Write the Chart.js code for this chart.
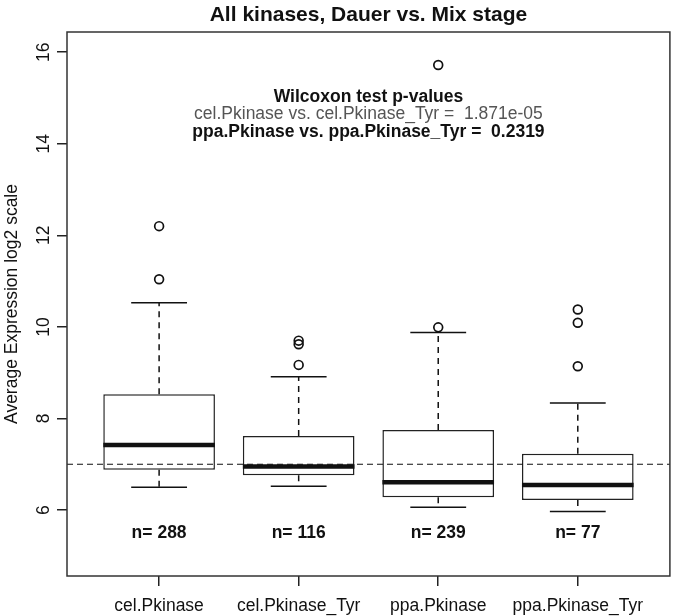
<!DOCTYPE html>
<html>
<head>
<meta charset="utf-8">
<script src="https://cdn.jsdelivr.net/npm/chart.js@4.4.0/dist/chart.umd.min.js"></script>
<style>
  html, body { margin: 0; padding: 0; background: #fff; }
  canvas { display: block; }
</style>
</head>
<body>
<canvas id="kinaseBox" width="676" height="616"></canvas>
<script>
// --- data ---
const categories = ['cel.Pkinase', 'cel.Pkinase_Tyr', 'ppa.Pkinase', 'ppa.Pkinase_Tyr'];
const whiskerLow = [6.50, 6.52, 6.06, 5.97];
const q1 = [6.88, 6.76, 6.28, 6.22];
const median = [7.42, 6.95, 6.61, 6.55];
const q3 = [8.53, 7.62, 7.75, 7.23];
const whiskerHigh = [10.53, 8.91, 9.88, 8.34];
const outliers = [
    [11.04, 12.20],
    [9.17, 9.62, 9.70],
    [9.99, 15.72],
    [9.14, 10.09, 10.38]
];
const counts = ['n= 288', 'n= 116', 'n= 239', 'n= 77'];
const yTicks = [6, 8, 10, 12, 14, 16];
const refLine = 7;
const pTitle = 'Wilcoxon test p-values';
const pLines = [
    'cel.Pkinase vs. cel.Pkinase_Tyr =  1.871e-05',
    'ppa.Pkinase vs. ppa.Pkinase_Tyr =  0.2319'
];

const FONT = '"Liberation Sans", Arial, Helvetica, sans-serif';
const FS = 17.5;

// whiskers, medians, frame and texts (R-style boxplot extras)
const boxExtras = {
    id: 'boxExtras',
    afterDatasetsDraw(chart) {
        const ctx = chart.ctx;
        const x = chart.scales.x;
        const y = chart.scales.y;
        const area = chart.chartArea;

        ctx.save();
        ctx.strokeStyle = '#111';
        ctx.lineCap = 'butt';

        categories.forEach((c, i) => {
            const cx = x.getPixelForValue(i + 1);
            // dashed whiskers
            ctx.lineWidth = 1.5;
            ctx.setLineDash([6, 5]);
            ctx.beginPath();
            ctx.moveTo(cx, y.getPixelForValue(q3[i]));
            ctx.lineTo(cx, y.getPixelForValue(whiskerHigh[i]));
            ctx.moveTo(cx, y.getPixelForValue(q1[i]));
            ctx.lineTo(cx, y.getPixelForValue(whiskerLow[i]));
            ctx.stroke();
            // caps
            ctx.setLineDash([]);
            ctx.beginPath();
            [whiskerHigh[i], whiskerLow[i]].forEach(v => {
                const py = y.getPixelForValue(v);
                ctx.moveTo(x.getPixelForValue(i + 0.8), py);
                ctx.lineTo(x.getPixelForValue(i + 1.2), py);
            });
            ctx.stroke();
            // median
            ctx.lineWidth = 4.5;
            ctx.beginPath();
            const my = y.getPixelForValue(median[i]);
            ctx.moveTo(x.getPixelForValue(i + 0.6), my);
            ctx.lineTo(x.getPixelForValue(i + 1.4), my);
            ctx.stroke();
        });

        // horizontal reference line
        ctx.lineWidth = 1.2;
        ctx.setLineDash([6, 4]);
        ctx.beginPath();
        const ry = y.getPixelForValue(refLine);
        ctx.moveTo(area.left, ry);
        ctx.lineTo(area.right, ry);
        ctx.stroke();
        ctx.setLineDash([]);

        // frame
        ctx.lineWidth = 1.5;
        ctx.strokeStyle = '#333';
        ctx.strokeRect(area.left, area.top, area.right - area.left, area.bottom - area.top);

        // n= labels
        ctx.fillStyle = '#111';
        ctx.textAlign = 'center';
        ctx.textBaseline = 'middle';
        ctx.font = 'bold ' + FS + 'px ' + FONT;
        counts.forEach((t, i) => {
            ctx.fillText(t, x.getPixelForValue(i + 1), y.getPixelForValue(5.5));
        });

        // p-value annotation
        const ax = x.getPixelForValue(2.5);
        ctx.font = 'bold ' + FS + 'px ' + FONT;
        ctx.fillText(pTitle, ax, y.getPixelForValue(15.02));
        ctx.font = FS + 'px ' + FONT;
        ctx.fillStyle = '#555';
        ctx.fillText(pLines[0], ax, y.getPixelForValue(14.65));
        ctx.font = 'bold ' + FS + 'px ' + FONT;
        ctx.fillStyle = '#111';
        ctx.fillText(pLines[1], ax, y.getPixelForValue(14.26));

        // y tick labels, rotated like R's las=0
        ctx.font = FS + 'px ' + FONT;
        y.ticks.forEach(t => {
            ctx.save();
            ctx.translate(area.left - 23, y.getPixelForValue(t.value));
            ctx.rotate(-Math.PI / 2);
            ctx.fillText(String(t.value), 0, 0);
            ctx.restore();
        });

        // y axis title
        ctx.save();
        ctx.translate(12, (area.top + area.bottom) / 2);
        ctx.rotate(-Math.PI / 2);
        ctx.fillText('Average Expression log2 scale', 0, 0);
        ctx.restore();

        ctx.restore();
    }
};

const outlierPoints = [];
outliers.forEach((list, i) => list.forEach(v => outlierPoints.push({ x: i + 1, y: v })));

new Chart(document.getElementById('kinaseBox'), {
    type: 'bar',
    data: {
        datasets: [
            {
                type: 'scatter',
                data: outlierPoints,
                pointStyle: 'circle',
                pointRadius: 4.4,
                borderWidth: 1.7,
                borderColor: '#111',
                backgroundColor: 'rgba(0,0,0,0)'
            },
            {
                type: 'bar',
                data: categories.map((c, i) => ({ x: i + 1, y: [q1[i], q3[i]] })),
                backgroundColor: '#fff',
                borderColor: '#222',
                borderWidth: 1.5,
                borderSkipped: false,
                categoryPercentage: 1,
                barPercentage: 0.8
            }
        ]
    },
    options: {
        responsive: false,
        animation: false,
        layout: { padding: { left: 0, right: 6, top: 0, bottom: 0 } },
        plugins: {
            legend: { display: false },
            tooltip: { enabled: false },
            title: {
                display: true,
                text: 'All kinases, Dauer vs. Mix stage',
                fullSize: false,
                color: '#111',
                font: { family: FONT, size: 21, weight: 'bold' },
                padding: { top: 2.5, bottom: 4.3 }
            }
        },
        scales: {
            x: {
                type: 'linear',
                min: 0.34,
                max: 4.66,
                offset: false,
                afterBuildTicks: s => { s.ticks = categories.map((c, i) => ({ value: i + 1 })); },
                afterFit: s => { s.height = 40; },
                border: { display: false },
                grid: { offset: false, drawOnChartArea: false, drawTicks: true, tickLength: 10, color: '#222', lineWidth: 1.5 },
                ticks: {
                    color: '#111',
                    padding: 10,
                    maxRotation: 0,
                    autoSkip: false,
                    font: { family: FONT, size: FS },
                    callback: v => categories[v - 1]
                }
            },
            y: {
                type: 'linear',
                min: 4.56,
                max: 16.44,
                afterBuildTicks: s => { s.ticks = yTicks.map(v => ({ value: v })); },
                afterFit: s => { s.width = 67; },
                border: { display: false },
                grid: { drawOnChartArea: false, drawTicks: true, tickLength: 10, color: '#222', lineWidth: 1.5 },
                ticks: { display: false }
            }
        }
    },
    plugins: [boxExtras]
});
</script>
</body>
</html>
